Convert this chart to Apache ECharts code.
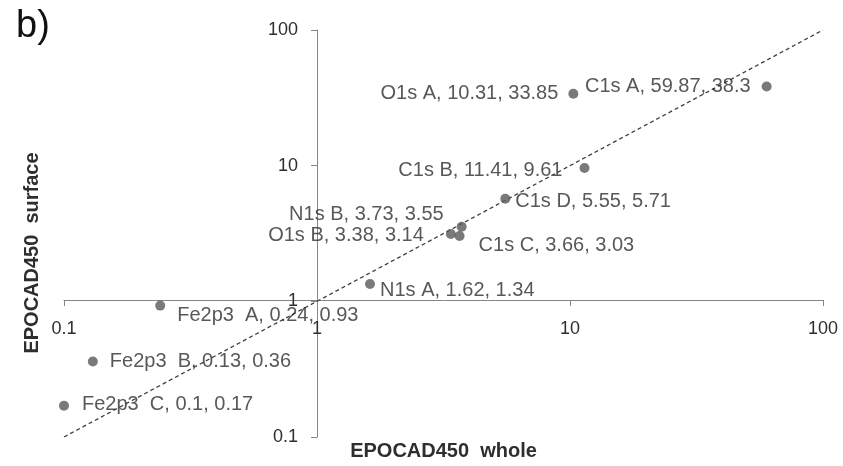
<!DOCTYPE html>
<html>
<head>
<meta charset="utf-8">
<script src="https://cdn.jsdelivr.net/npm/echarts@6/dist/echarts.min.js"></script>
<style>
  html, body { margin: 0; padding: 0; background: #ffffff; }
  #chart { width: 843px; height: 466px; }
</style>
</head>
<body>
<div id="chart"></div>
<script>
// Peak components: whole-sample vs. surface atomic percentages
const peakNames = ['C1s A', 'O1s A', 'C1s B', 'C1s D', 'N1s B', 'O1s B', 'C1s C', 'N1s A', 'Fe2p3  A', 'Fe2p3  B', 'Fe2p3  C'];
const wholeValues = [59.87, 10.31, 11.41, 5.55, 3.73, 3.38, 3.66, 1.62, 0.24, 0.13, 0.1];
const surfaceValues = [38.3, 33.85, 9.61, 5.71, 3.55, 3.14, 3.03, 1.34, 0.93, 0.36, 0.17];

// Reference line y = x across the plotted range
const parityX = [0.1, 100];
const parityY = [0.1, 100];

// Axis range (log scale)
const axisMin = 0.1;
const axisMax = 100;

// Label placement around each marker
const labelSide = ['left', 'left', 'left', 'right', 'left', 'left', 'right', 'right', 'right', 'right', 'right'];
const labelGap = [11, 10, 17, 5, 13, 22, 14, 5, 12, 12, 13];
const labelShiftY = [0, 0, 2, 3, -12, 2, 9, 6, 10, 0, -1];

const grid = { left: 64, right: 20, top: 30, bottom: 25 };
const W = 843, H = 466;
const plotW = W - grid.left - grid.right;
const plotH = H - grid.top - grid.bottom;
// axes cross at value 1, which sits one decade in from the low end of each 3-decade axis
const decades = Math.log10(axisMax / axisMin);
const xAxisShift = -plotH * Math.log10(1 / axisMin) / decades;
const yAxisShift = -plotW * Math.log10(1 / axisMin) / decades;

const axisColor = '#868686';
const textColor = '#2e2e2e';
const fontFamily = 'Arial, "Liberation Sans", sans-serif';

const points = peakNames.map((n, i) => ({
  name: n,
  value: [wholeValues[i], surfaceValues[i]],
  label: {
    position: labelSide[i],
    distance: labelGap[i],
    offset: [0, labelShiftY[i]]
  }
}));

const chart = echarts.init(document.getElementById('chart'), null, { renderer: 'canvas' });
chart.setOption({
  animation: false,
  backgroundColor: '#ffffff',
  grid: grid,
  xAxis: {
    type: 'log',
    logBase: 10,
    min: axisMin,
    max: axisMax,
    position: 'bottom',
    offset: xAxisShift,
    name: 'EPOCAD450  whole',
    nameLocation: 'middle',
    nameGap: 141,
    nameTextStyle: { fontFamily: fontFamily, fontWeight: 'bold', fontSize: 20, color: textColor },
    axisLine: { onZero: false, lineStyle: { color: axisColor, width: 1 } },
    axisTick: { show: true, inside: false, length: 6, lineStyle: { color: axisColor } },
    minorTick: { show: false },
    splitLine: { show: false },
    axisLabel: { margin: 20, fontFamily: fontFamily, fontSize: 18, color: textColor, showMinLabel: true, showMaxLabel: true }
  },
  yAxis: {
    type: 'log',
    logBase: 10,
    min: axisMin,
    max: axisMax,
    position: 'left',
    offset: yAxisShift,
    axisLine: { onZero: false, lineStyle: { color: axisColor, width: 1 } },
    axisTick: { show: true, inside: false, length: 6, lineStyle: { color: axisColor } },
    splitLine: { show: false },
    axisLabel: { margin: 19, fontFamily: fontFamily, fontSize: 18, color: textColor, showMinLabel: true, showMaxLabel: true }
  },
  graphic: [
    {
      type: 'text',
      left: 16,
      top: 8,
      style: { text: 'b)', font: '38px ' + fontFamily, fill: '#111111' }
    },
    {
      type: 'text',
      x: 32,
      y: 253,
      rotation: Math.PI / 2,
      style: {
        text: 'EPOCAD450  surface',
        font: 'bold 20px ' + fontFamily,
        fill: textColor,
        align: 'center',
        verticalAlign: 'middle'
      }
    }
  ],
  series: [
    {
      type: 'line',
      data: parityX.map((x, i) => [x, parityY[i]]),
      symbol: 'none',
      silent: true,
      z: 1,
      lineStyle: { color: '#404040', width: 1.3, type: [4, 3] }
    },
    {
      type: 'scatter',
      data: points,
      symbol: 'circle',
      symbolSize: 10,
      z: 3,
      itemStyle: { color: '#595959' },
      label: {
        show: true,
        fontFamily: fontFamily,
        fontSize: 20,
        color: textColor,
        formatter: p => p.name + ', ' + p.value[0] + ', ' + p.value[1]
      }
    }
  ]
});
</script>
</body>
</html>
